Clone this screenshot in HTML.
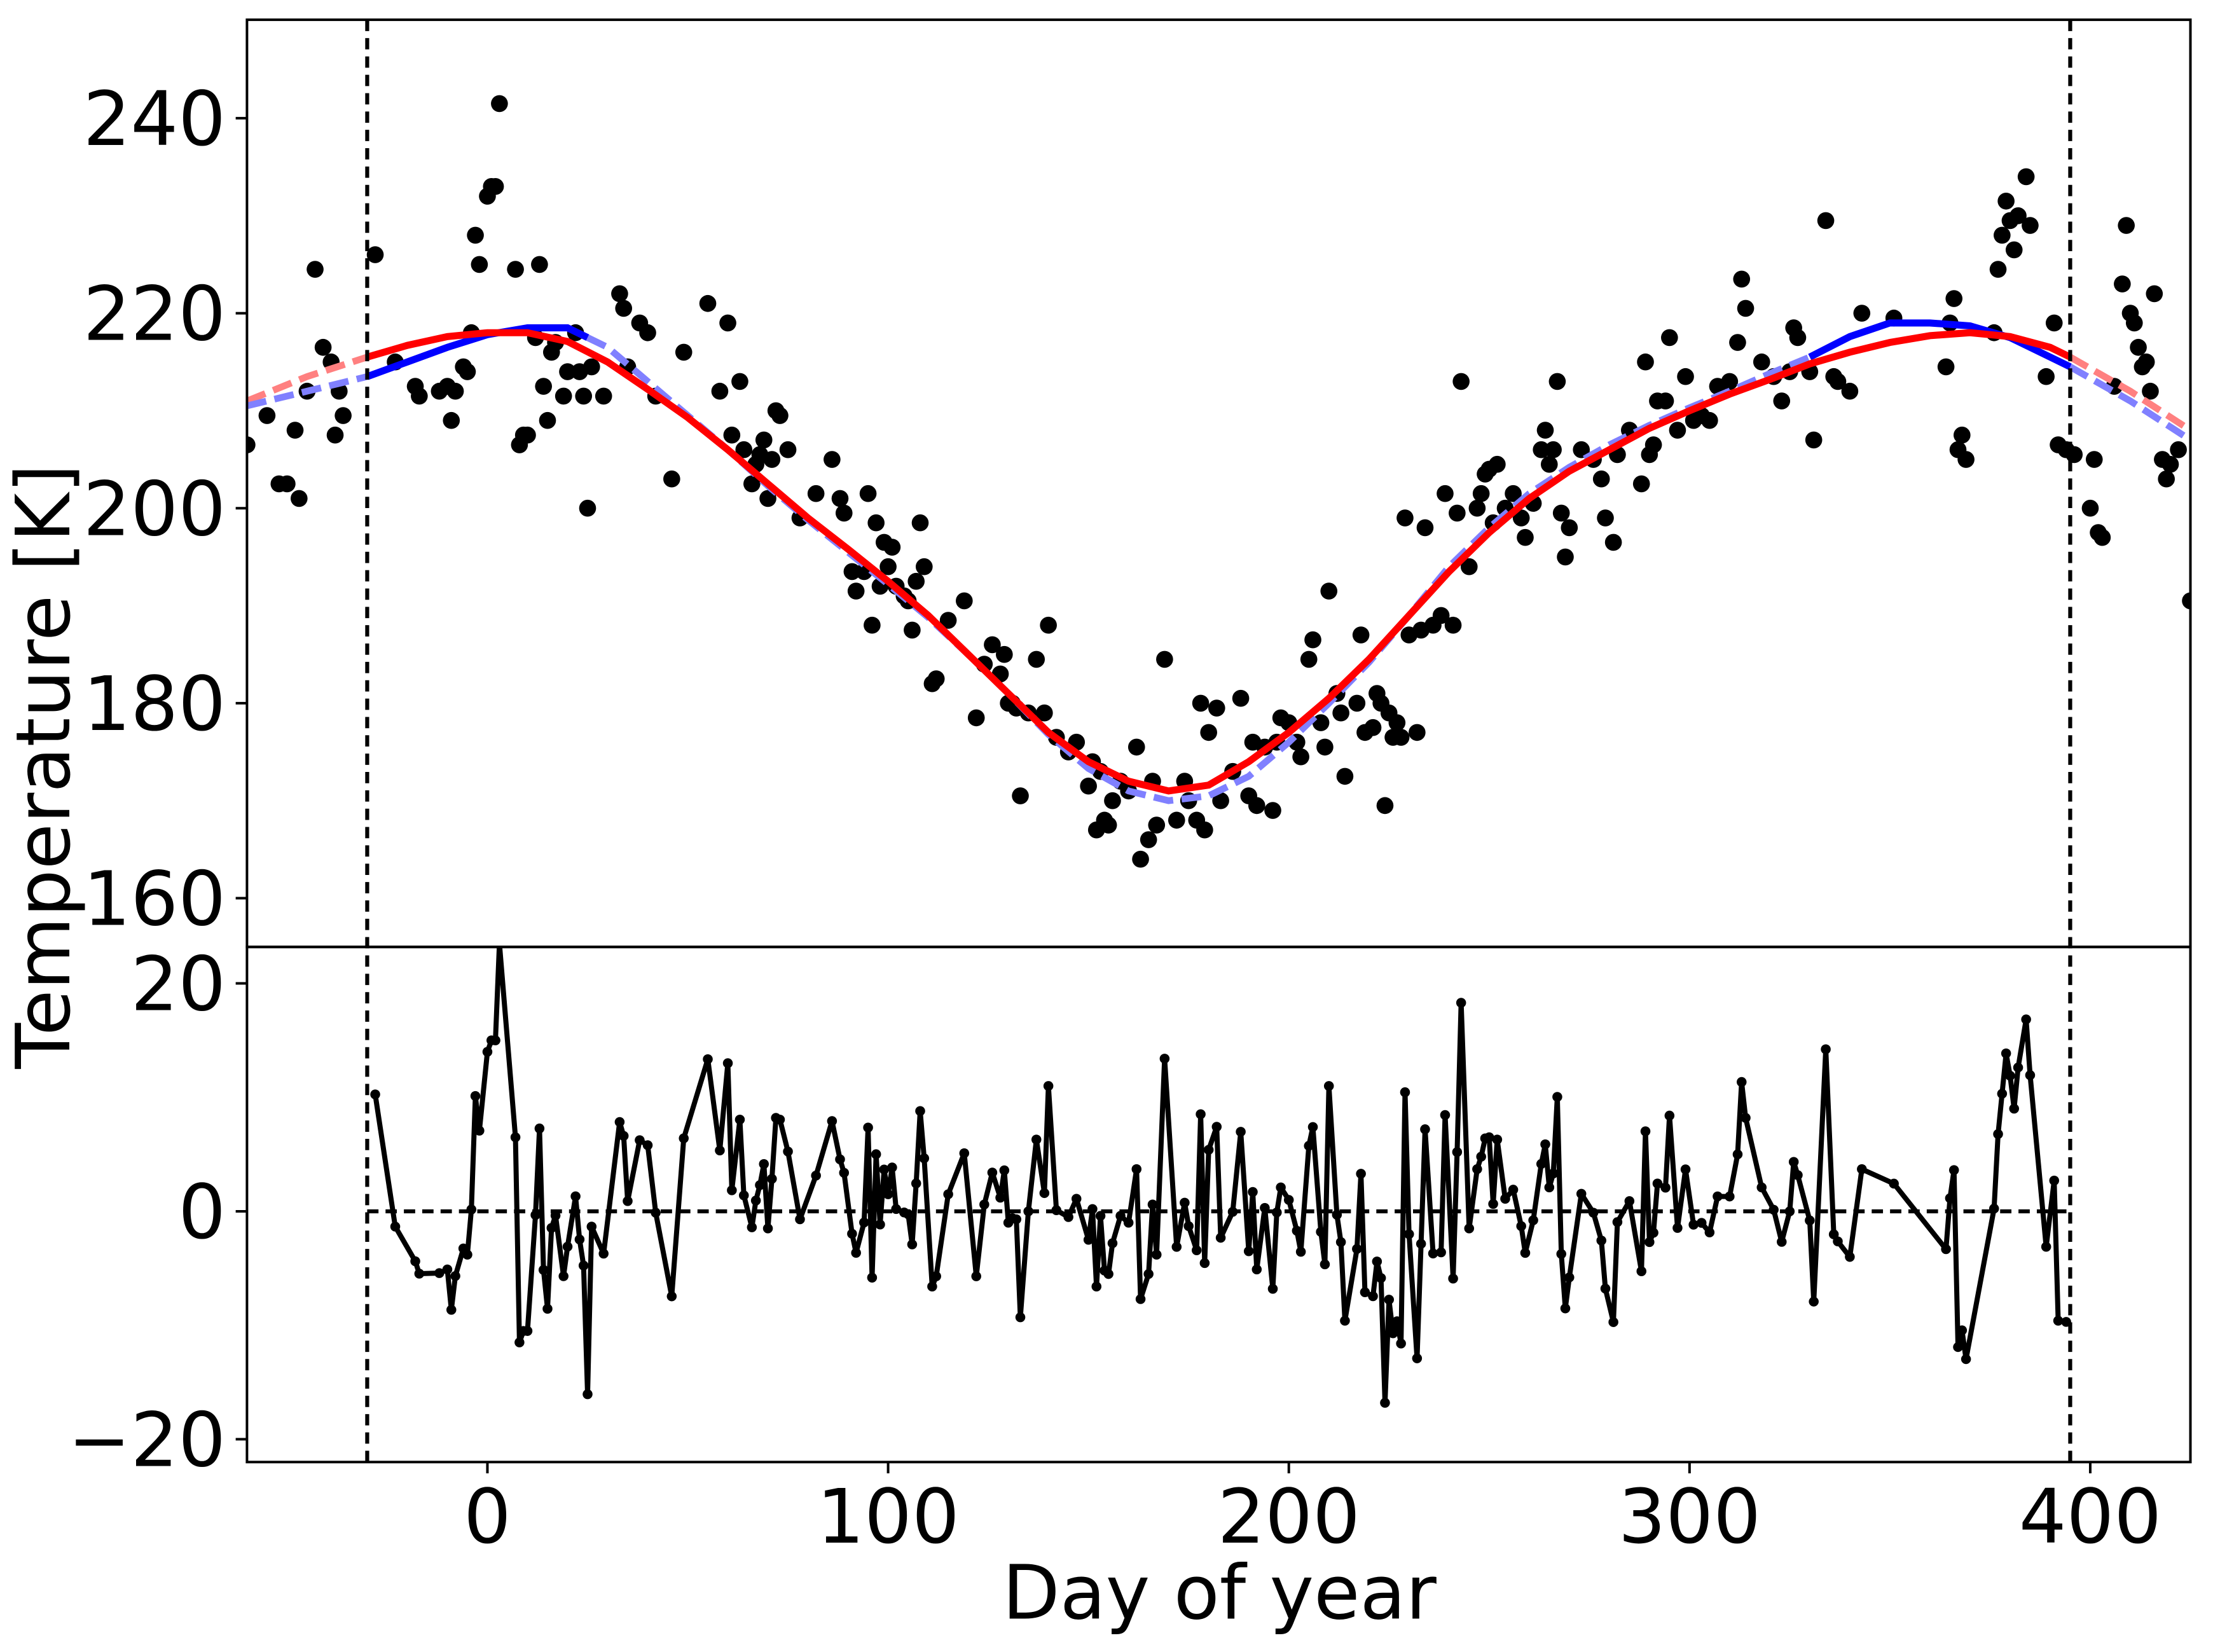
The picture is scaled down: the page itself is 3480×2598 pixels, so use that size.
<!DOCTYPE html>
<html><head><meta charset="utf-8">
<style>html,body{margin:0;padding:0;background:#fff}svg{display:block}</style>
</head><body>
<svg id="chart" xmlns="http://www.w3.org/2000/svg" width="3480" height="2598" viewBox="0 0 1568 1170.6" preserveAspectRatio="none" font-family="DejaVu Sans, Liberation Sans, sans-serif">
<rect x="0" y="0" width="1568" height="1170.6" fill="#fff"/>
<defs>
<clipPath id="clipTop"><rect x="175" y="14" width="1377" height="657"/></clipPath>
<clipPath id="clipBot"><rect x="175" y="671" width="1377" height="365"/></clipPath>
</defs>
<g id="topPanel" clip-path="url(#clipTop)"></g>
<g id="botPanel" clip-path="url(#clipBot)"></g>
<g id="axes"></g>
<text x="864" y="1147" font-size="53" text-anchor="middle">Day of year</text>
<text x="0" y="0" font-size="53" text-anchor="middle" transform="translate(49,543) rotate(-90)">Temperature [K]</text>
</svg>
<script>
const obsDays=[-60,-55,-52,-50,-48,-47,-45,-43,-41,-39,-38,-37,-36,-28,-23,-18,-17,-12,-10,-9,-8,-6,-5,-4,-3,-2,0,1,2,3,7,8,9,10,12,13,14,15,16,17,19,20,22,23,24,25,26,29,33,34,35,38,40,42,46,49,55,58,60,61,63,64,66,67,68,69,70,71,72,73,75,78,82,86,88,89,91,92,94,95,96,97,98,99,100,101,102,104,105,106,107,108,109,111,112,115,119,122,124,126,128,129,130,131,132,133,135,137,139,140,142,145,147,150,151,152,153,154,155,156,158,160,162,163,165,166,167,169,172,174,175,177,178,179,180,182,183,186,188,190,191,192,194,196,197,198,200,202,203,205,206,208,209,210,212,213,214,217,218,219,221,222,223,224,225,226,227,228,229,230,232,233,234,236,238,239,241,242,243,245,247,248,249,250,251,252,254,256,258,259,261,263,264,265,266,267,268,269,270,273,276,278,279,281,282,285,288,289,290,291,292,294,295,297,299,301,303,305,307,310,312,313,314,318,321,323,325,326,327,330,331,334,336,337,340,343,351,364,365,366,367,368,369,376,377,378,379,380,381,382,384,385,389,391,392,394,396,400,401,402,403,406,408,409,410,411,412,413,414,415,416,418,419,420,422,425];
const obsTemps=[206.5,209.5,202.5,202.5,208,201,212,224.5,216.5,215,207.5,212,209.5,226,215,212.5,211.5,212,212.5,209,212,214.5,214,218,228,225,232,233,233,241.5,224.5,206.5,207.5,207.5,217.5,225,212.5,209,216,217,211.5,214,218,214,211.5,200,214.5,211.5,222,220.5,214.5,219,218,211.5,203,216,221,212,219,207.5,213,206,202.5,204.5,205.5,207,201,205,210,209.5,206,199,201.5,205,201,199.5,193.5,191.5,193.5,201.5,188,198.5,192,196.5,194,196,192,191,190.5,187.5,192.5,198.5,194,182,182.5,188.5,190.5,178.5,184,186,183,185,180,180,179.5,170.5,179,184.5,179,188,176.5,175,176,171.5,174,167,173,168,167.5,170,172,171,175.5,164,166,172,167.5,184.5,168,172,170,168,180,167,177,179.5,170,173,180.5,170.5,176,169.5,175.5,169,176,178.5,178,176,174.5,184.5,186.5,178,175.5,191.5,181,179,172.5,180,187,177,177.5,181,180,169.5,179,176.5,178,176.5,199,187,177,187.5,198,188,189,201.5,188,199.5,213,194,200,201.5,203.5,204,198.5,204.5,200,201.5,199,197,200.5,206,208,204.5,206,213,199.5,195,198,206,205,203,199,196.5,205.5,208,202.5,215,205.5,206.5,211,211,217.5,208,213.5,209,209.5,209,212.5,213,217,223.5,220.5,215,213.5,211,214,218.5,217.5,214,207,229.5,213.5,213,212,220,219.5,214.5,219,221.5,206,207.5,205,218,224.5,228,231.5,229.5,226.5,230,234,229,213.5,219,206.5,206,205.5,200,205,197.5,197,212.5,223,229,220,219,216.5,214.5,215,212,222,205,203,204.5,206,190.5];
const fitDays=[-30,-20,-10,0,10,20,30,40,50,60,70,80,90,100,110,120,130,140,150,160,170,180,190,200,210,220,230,240,250,260,270,280,290,300,310,320,330,340,350,360,370,380,390,395];
const redFit=[215.5,216.7,217.6,218,218,217.1,215,212.2,209.3,206,202.5,199,195.8,192.5,189,185,181,177,174,172,171,171.6,174,177,180.5,184.5,189,193.5,197.5,201,203.8,206,208.2,210,211.7,213.2,214.8,216,217,217.7,218,217.6,216.5,215.5];
const redExtL=[[-60,211],[-45,213.5],[-30,215.5]];
const redExtR=[[395,215.5],[410,212],[425,208]];
const blueFit=[213.5,215,216.5,217.8,218.5,218.5,216.5,213,209.5,206,202.3,198.8,195.5,192.2,188.8,185,181,176.8,173.3,171,170,170.5,172.5,176,180,184.2,189,194,198,201.5,204.2,206.5,208.5,210.3,212,213.8,215.5,217.6,219,219,218.7,217.5,215.5,214.5];
const blueSolidRanges=[[-30,25],[330,395]];
const blueExtL=[[-60,210.5],[-45,212],[-30,213.5]];
const blueExtR=[[395,214.5],[410,211],[425,207]];
const xTicks=[0,100,200,300,400];
const yTopTicks=[160,180,200,220,240];
const yBotTicks=[-20,0,20];
const vLines=[-30,395];

const NS="http://www.w3.org/2000/svg";
const L=175,R=1552,T=14,M=671,B=1036;
const X0=-60,X1=425,YT0=155,YT1=250.1,YB0=-22,YB1=23.2;
const sx=d=>L+(d-X0)/(X1-X0)*(R-L);
const syT=v=>M-(v-YT0)/(YT1-YT0)*(M-T);
const syB=v=>B-(v-YB0)/(YB1-YB0)*(B-M);
function mk(tag,attrs,parent){const e=document.createElementNS(NS,tag);for(const k in attrs)e.setAttribute(k,attrs[k]);parent.appendChild(e);return e;}
const gTop=document.getElementById('topPanel'),gBot=document.getElementById('botPanel'),gAxes=document.getElementById('axes');
function interp(xs,ys,d){if(d<=xs[0])return ys[0];for(let i=1;i<xs.length;i++){if(d<=xs[i]){const t=(d-xs[i-1])/(xs[i]-xs[i-1]);return ys[i-1]+t*(ys[i]-ys[i-1]);}}return ys[ys.length-1];}
function pathFrom(pts,sy){return pts.map((p,i)=>(i?'L':'M')+sx(p[0]).toFixed(2)+','+sy(p[1]).toFixed(2)).join(' ');}

vLines.forEach(d=>{
 const l=mk('line',{x1:sx(d),x2:sx(d),y1:T,y2:B,stroke:'#000','stroke-width':2.8,'stroke-dasharray':'8,5'},gAxes);
 
 
});

obsDays.forEach((d,i)=>{
 const c=mk('circle',{cx:sx(d),cy:syT(obsTemps[i]),r:6,fill:'#000'},gTop);
 
 
});

const redPts=fitDays.map((d,i)=>[d,redFit[i]]);
const bluePts=fitDays.map((d,i)=>[d,blueFit[i]]);
function seg(pts,a,b){const xs=pts.map(p=>p[0]),ys=pts.map(p=>p[1]);const arr=[[a,interp(xs,ys,a)]];pts.forEach(p=>{if(p[0]>a&&p[0]<b)arr.push(p);});arr.push([b,interp(xs,ys,b)]);return arr;}
let p;
p=mk('path',{d:pathFrom(redExtL,syT),fill:'none',stroke:'#ff8080','stroke-width':4.8,'stroke-dasharray':'14,6'},gTop);

p=mk('path',{d:pathFrom(redExtR,syT),fill:'none',stroke:'#ff8080','stroke-width':4.8,'stroke-dasharray':'14,6'},gTop);

p=mk('path',{d:pathFrom(blueExtL,syT),fill:'none',stroke:'#8080ff','stroke-width':4.8,'stroke-dasharray':'14,6'},gTop);

p=mk('path',{d:pathFrom(blueExtR,syT),fill:'none',stroke:'#8080ff','stroke-width':4.8,'stroke-dasharray':'14,6'},gTop);

p=mk('path',{d:pathFrom(seg(bluePts,blueSolidRanges[0][1],blueSolidRanges[1][0]),syT),fill:'none',stroke:'#8080ff','stroke-width':4.8,'stroke-dasharray':'14,6'},gTop);

blueSolidRanges.forEach(r=>{
 const q=mk('path',{d:pathFrom(seg(bluePts,r[0],r[1]),syT),fill:'none',stroke:'#0000ff','stroke-width':5},gTop);
 
 
});
p=mk('path',{d:pathFrom(redPts,syT),fill:'none',stroke:'#ff0000','stroke-width':5},gTop);


const zl=mk('line',{x1:sx(-30),x2:sx(395),y1:syB(0),y2:syB(0),stroke:'#000','stroke-width':2.8,'stroke-dasharray':'8,5'},gBot);

const resid=[];
obsDays.forEach((d,i)=>{if(d>=-30&&d<=395)resid.push([d,obsTemps[i]-interp(fitDays,redFit,d)]);});
p=mk('path',{d:pathFrom(resid,syB),fill:'none',stroke:'#000','stroke-width':3.6,'stroke-linejoin':'round'},gBot);

resid.forEach(r=>{
 const c=mk('circle',{cx:sx(r[0]),cy:syB(r[1]),r:3.5,fill:'#000'},gBot);
 
 
});

let f=mk('rect',{x:L,y:T,width:R-L,height:M-T,fill:'none',stroke:'#000','stroke-width':1.8},gAxes);

f=mk('rect',{x:L,y:M,width:R-L,height:B-M,fill:'none',stroke:'#000','stroke-width':1.8},gAxes);


xTicks.forEach(v=>{
 mk('line',{x1:sx(v),x2:sx(v),y1:B,y2:B+8,stroke:'#000','stroke-width':1.8},gAxes);
 const t=mk('text',{x:sx(v),y:B+57,'font-size':53,'text-anchor':'middle',fill:'#000'},gAxes);
 t.textContent=v;
 
 
});
yTopTicks.forEach(v=>{
 mk('line',{x1:L-8,x2:L,y1:syT(v),y2:syT(v),stroke:'#000','stroke-width':1.8},gAxes);
 const t=mk('text',{x:L-15,y:syT(v)+19,'font-size':53,'text-anchor':'end',fill:'#000'},gAxes);
 t.textContent=v;
 
 
});
yBotTicks.forEach(v=>{
 mk('line',{x1:L-8,x2:L,y1:syB(v),y2:syB(v),stroke:'#000','stroke-width':1.8},gAxes);
 const t=mk('text',{x:L-15,y:syB(v)+19,'font-size':53,'text-anchor':'end',fill:'#000'},gAxes);
 t.textContent=v<0?'\u2212'+Math.abs(v):v;
 
 
});
</script>
</body></html>
